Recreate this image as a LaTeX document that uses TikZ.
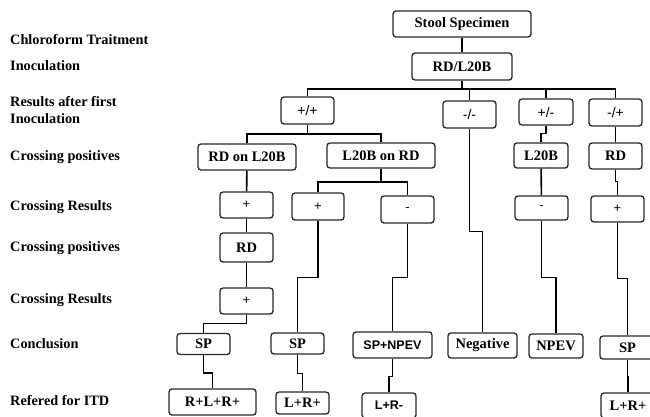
\documentclass[tikz,border=0pt]{standalone}
\usepackage{fontspec}
\setmainfont{Liberation Serif}
\newfontfamily\sansf{Liberation Sans}
\begin{document}
\begin{tikzpicture}[x=1pt,y=-1pt,
  box/.style={draw=black!85,line width=1.3pt,rounded corners=3pt,inner sep=0pt,
    font=\fontsize{14.5}{16}\selectfont\bfseries},
  sbox/.style={box,font=\fontsize{12.5}{14}\selectfont\sansf\bfseries},
  rbox/.style={box,font=\fontsize{14}{15}\selectfont\sansf},
  sign/.style={box,font=\fontsize{13}{14}\selectfont\sansf},
  lab/.style={anchor=west,inner sep=0pt,align=left,
    font=\fontsize{14.3}{16.5}\selectfont\bfseries},
  conn/.style={line width=1.6pt,black}]
\useasboundingbox (0,0) rectangle (650,416);
\clip (0,0) rectangle (650,416);
% left labels
\node[lab] (l1) at (10,40) {Chloroform Traitment};
\node[lab] (l2) at (10,66) {Inoculation};
\node[lab] (l3) at (10,110) {Results after first\\Inoculation};
\node[lab] (l4) at (10,157) {Crossing positives};
\node[lab] (l5) at (10,207) {Crossing Results};
\node[lab] (l6) at (10,248) {Crossing positives};
\node[lab] (l7) at (10,300) {Crossing Results};
\node[lab] (l8) at (10,344) {Conclusion};
\node[lab] (l9) at (10,401) {Refered for ITD};
% boxes
\node[box,minimum width=138pt,minimum height=26pt] (stool) at (462,24) {Stool Specimen};
\node[box,minimum width=100pt,minimum height=27pt] (rdl) at (462,66.5) {RD/L20B};
\node[rbox,minimum width=53pt,minimum height=27pt] (pp) at (307.5,110.5) {+/+};
\node[rbox,minimum width=53pt,minimum height=27pt] (mm) at (469.5,114.5) {-/-};
\node[rbox,minimum width=54pt,minimum height=26pt] (pm) at (546,112) {+/-};
\node[rbox,minimum width=53pt,minimum height=27pt] (mp) at (615.5,112.5) {-/+};
\node[box,minimum width=98pt,minimum height=26pt] (rdonl) at (247,157) {RD on L20B};
\node[box,minimum width=108pt,minimum height=25pt] (lonrd) at (381,155.5) {L20B on RD};
\node[box,minimum width=54pt,minimum height=25pt] (l20b) at (541,155.5) {L20B};
\node[box,minimum width=53pt,minimum height=26pt] (rd) at (615.5,156) {RD};
\node[sign,minimum width=53pt,minimum height=26pt] (c1p) at (246.5,205) {+};
\node[sign,minimum width=52pt,minimum height=27pt] (c2p) at (318,206.5) {+};
\node[sign,minimum width=53pt,minimum height=27pt] (c3m) at (407.5,209.5) {-};
\node[sign,minimum width=53pt,minimum height=24pt] (c5m) at (541.5,208) {-};
\node[sign,minimum width=53pt,minimum height=26pt] (c6p) at (617.5,209) {+};
\node[box,minimum width=53pt,minimum height=29pt] (c1rd) at (246.5,247.5) {RD};
\node[sign,minimum width=53pt,minimum height=26pt] (c1p2) at (246.5,301) {+};
\node[box,minimum width=53pt,minimum height=21pt] (sp1) at (203.5,344) {SP};
\node[box,minimum width=53pt,minimum height=21pt] (sp2) at (297.5,343.5) {SP};
\node[sbox,minimum width=79pt,minimum height=26pt] (spn) at (392.5,345) {SP+NPEV};
\node[box,minimum width=69pt,minimum height=25pt] (neg) at (482.5,345.5) {Negative};
\node[box,minimum width=54pt,minimum height=24pt] (npev) at (556,346) {NPEV};
\node[box,minimum width=55pt,minimum height=23pt] (sp6) at (627.5,347.5) {SP};
\node[box,minimum width=87pt,minimum height=26pt] (rlr) at (212.5,402) {R+L+R+};
\node[box,minimum width=53pt,minimum height=22pt] (lr2) at (302.5,403) {L+R+};
\node[sbox,minimum width=54pt,minimum height=25pt] (lrm) at (389,405.5) {L+R-};
\node[box,minimum width=54pt,minimum height=25pt] (lr6) at (628,405.5) {L+R+};
% connectors
\coordinate (b1) at (462,89);
\coordinate (b2) at (307.5,134);
\coordinate (b3) at (381,182);
\draw[conn] (stool) -- (rdl);
\draw[conn] (rdl) -- (b1);
\draw[conn] (b1) -| (pp);
\draw[conn] (b1) -| (mm);
\draw[conn] (b1) -| (pm);
\draw[conn] (b1) -| (mp);
\draw[conn] (pp) -- (b2);
\draw[conn] (b2) -| (rdonl);
\draw[conn] (b2) -| (lonrd);
\draw[conn] (pm.south) -- ++(0,8) -| (l20b.north);
\draw[conn] (mp) -- (rd);
\draw[conn] (rdonl) -- (c1p);
\draw[conn] (lonrd) -- (b3);
\draw[conn] (b3) -| (c2p);
\draw[conn] (b3) -| (c3m);
\draw[conn] (l20b) -- (c5m);
\draw[conn] (rd.south) -- ++(0,12) -| (c6p.north);
\draw[conn] (c1p) -- (c1rd);
\draw[conn] (c1rd) -- (c1p2);
\draw[conn] (c1p2.south) -- ++(0,9) -| (sp1.north);
\draw[conn] (c2p.south) -- ++(0,57) -| (sp2.north);
\draw[conn] (c3m.south) -- ++(0,54) -| (spn.north);
\draw[conn] (mm.south) -- ++(0,103) -| (neg.north);
\draw[conn] (c5m.south) -- ++(0,57) -| (npev.north);
\draw[conn] (c6p.south) -- ++(0,56) -| (sp6.north);
\draw[conn] (sp1.south) -- ++(0,18) -| (rlr.north);
\draw[conn] (sp2.south) -- ++(0,19) -| (lr2.north);
\draw[conn] (spn.south) -- ++(0,18) -| (lrm.north);
\draw[conn] (sp6.south) -- ++(0,17) -| (lr6.north);
\end{tikzpicture}
\end{document}
